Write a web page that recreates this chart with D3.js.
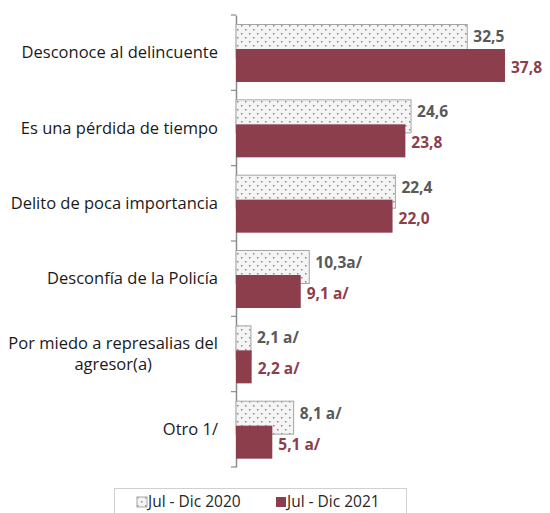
<!DOCTYPE html>
<html>
<head>
<meta charset="utf-8">
<script src="https://cdn.jsdelivr.net/npm/d3@7.9.0/dist/d3.min.js"></script>
<style>
  body { margin: 0; background: #fff; }
  svg { display: block; font-family: "Open Sans", Lato, sans-serif; }
</style>
</head>
<body>
<div id="chart"></div>
<script>
// ---- data ----
const categories = [
  "Desconoce al delincuente",
  "Es una pérdida de tiempo",
  "Delito de poca importancia",
  "Desconfía de la Policía",
  "Por miedo a represalias del|agresor(a)",
  "Otro 1/"
];
const series = ["Jul - Dic 2020", "Jul - Dic 2021"];
const values2020 = [32.5, 24.6, 22.4, 10.3, 2.1, 8.1];
const values2021 = [37.8, 23.8, 22.0, 9.1, 2.2, 5.1];
const labels2020 = ["32,5", "24,6", "22,4", "10,3a/", "2,1 a/", "8,1 a/"];
const labels2021 = ["37,8", "23,8", "22,0", "9,1 a/", "2,2 a/", "5,1 a/"];

const width = 550, height = 513;
const red = "#8c3e4c";

const svg = d3.select("#chart").append("svg")
  .attr("width", width)
  .attr("height", height);

// dotted pattern
const pat = svg.append("defs").append("pattern")
  .attr("id", "dots")
  .attr("patternUnits", "userSpaceOnUse")
  .attr("width", 8).attr("height", 8);
pat.append("rect").attr("width", 8).attr("height", 8).attr("fill", "#f4f4f4");
pat.append("rect").attr("x", 1).attr("y", 1).attr("width", 1.5).attr("height", 1.5).attr("fill", "#8a8a8a");
pat.append("rect").attr("x", 5).attr("y", 5).attr("width", 1.5).attr("height", 1.5).attr("fill", "#8a8a8a");

const x = d3.scaleLinear().domain([0, 40]).range([236, 236 + 40 * 7.116]);
const y = d3.scaleBand().domain(categories).range([15, 467]);
const off = d3.scaleOrdinal().domain(series).range([9.5, 34]);
const barH = 33;

// axis
const axis = svg.append("g")
  .attr("transform", `translate(${x(0)},0)`)
  .call(d3.axisLeft(y).tickValues([]).tickSize(0).tickSizeOuter(0));
axis.select(".domain").attr("stroke", "#8c8c8c").attr("stroke-width", 1.5);
svg.append("g").selectAll("line")
  .data(d3.range(categories.length + 1))
  .join("line")
  .attr("x1", x(0) - 5).attr("x2", x(0))
  .attr("y1", i => 15 + i * y.bandwidth())
  .attr("y2", i => 15 + i * y.bandwidth())
  .attr("stroke", "#8c8c8c").attr("stroke-width", 1.2);

// bars 2020
svg.append("g").selectAll("rect")
  .data(categories)
  .join("rect")
  .attr("x", x(0))
  .attr("y", d => y(d) + off(series[0]))
  .attr("width", (d, i) => x(values2020[i]) - x(0))
  .attr("height", barH)
  .attr("fill", "url(#dots)")
  .attr("stroke", "#a6a6a6")
  .attr("stroke-width", 1);

// bars 2021
svg.append("g").selectAll("rect")
  .data(categories)
  .join("rect")
  .attr("x", x(0))
  .attr("y", d => y(d) + off(series[1]))
  .attr("width", (d, i) => x(values2021[i]) - x(0))
  .attr("height", barH)
  .attr("fill", red);

// value labels
svg.append("g").selectAll("text")
  .data(categories)
  .join("text")
  .attr("x", (d, i) => x(values2020[i]) + 6)
  .attr("y", d => y(d) + off(series[0]) + 12)
  .attr("dy", "0.35em")
  .attr("font-size", 15.5).attr("font-weight", "bold")
  .attr("fill", "#595959")
  .text((d, i) => labels2020[i]);

svg.append("g").selectAll("text")
  .data(categories)
  .join("text")
  .attr("x", (d, i) => x(values2021[i]) + 6)
  .attr("y", d => y(d) + off(series[1]) + barH / 2 + 2)
  .attr("dy", "0.35em")
  .attr("font-size", 15.5).attr("font-weight", "bold")
  .attr("fill", red)
  .text((d, i) => labels2021[i]);

// category labels
svg.append("g").selectAll("g")
  .data(categories)
  .join("g")
  .each(function (d) {
    const lines = d.split("|");
    const g = d3.select(this);
    const cy = y(d) + y.bandwidth() / 2;
    const lh = 21;
    const t = g.append("text")
      .attr("font-size", 16.5).attr("fill", "#1a1a1a");
    if (lines.length === 1) {
      t.attr("x", 218).attr("y", cy).attr("dy", "0.35em")
        .attr("text-anchor", "end").text(d);
    } else {
      t.attr("x", 0).attr("y", 0).text(lines[0]);
      const w = t.node().getComputedTextLength();
      t.text(null).attr("text-anchor", "middle");
      lines.forEach((ln, k) => {
        t.append("tspan")
          .attr("x", 218 - w / 2)
          .attr("y", cy + (k - (lines.length - 1) / 2) * lh)
          .attr("dy", "0.35em")
          .text(ln);
      });
    }
  });

// legend
const lg = svg.append("g");
lg.append("rect")
  .attr("x", 114.5).attr("y", 488.5)
  .attr("width", 292).attr("height", 40)
  .attr("fill", "none").attr("stroke", "#d0d0d0");
const items = [
  { name: series[0], sx: 137, fill: "url(#dots)", stroke: "#a6a6a6" },
  { name: series[1], sx: 276, fill: red, stroke: "none" }
];
items.forEach(it => {
  lg.append("rect")
    .attr("x", it.sx).attr("y", 497)
    .attr("width", 10).attr("height", 10)
    .attr("fill", it.fill).attr("stroke", it.stroke);
  lg.append("text")
    .attr("x", it.sx + 11).attr("y", 502)
    .attr("dy", "0.35em")
    .attr("font-size", 15.5).attr("fill", "#262626")
    .text(it.name);
});
</script>
</body>
</html>
